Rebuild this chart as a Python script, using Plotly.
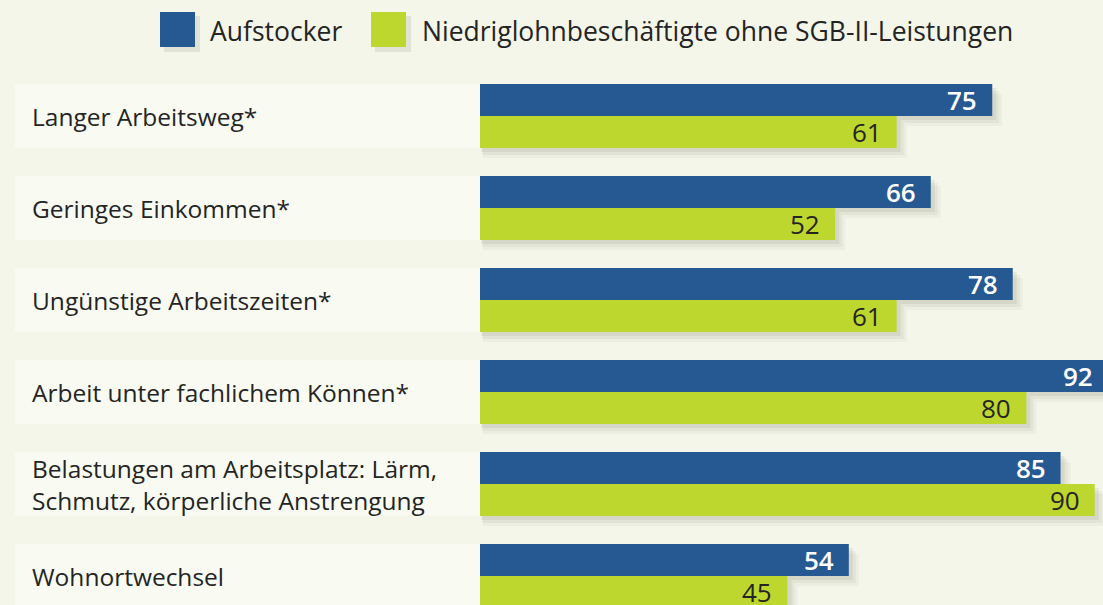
import plotly.graph_objects as go

categories = [
    "Langer Arbeitsweg*",
    "Geringes Einkommen*",
    "Ungünstige Arbeitszeiten*",
    "Arbeit unter fachlichem Können*",
    "Belastungen am Arbeitsplatz: Lärm,<br>Schmutz, körperliche Anstrengung",
    "Wohnortwechsel",
]
aufstocker = [75, 66, 78, 92, 85, 54]
niedriglohn = [61, 52, 61, 80, 90, 45]
series_names = ["Aufstocker", "Niedriglohnbeschäftigte ohne SGB-II-Leistungen"]

BLUE = "#265892"
LIME = "#bed72e"
BG = "#f4f6ea"
PANEL = "#f9fbf3"
TXT = "#242424"
FONT = "Open Sans"
NUMFONT = "Open Sans"

W, H = 1103, 605
ML, MT = 480, 70
PW, PH = W - ML, H - MT
PX_PER_UNIT = 6.83
XMAX = PW / PX_PER_UNIT
ROW_PX = 92
Y_SPAN = PH / ROW_PX


def px2paper_x(px):
    return (px - ML) / PW


def py2paper_y(py):
    return (H - py) / PH


fig = go.Figure()
fig.add_trace(go.Bar(y=categories, x=aufstocker, orientation="h", name=series_names[0],
                     marker=dict(color=BLUE, line=dict(width=0)), hoverinfo="x+y"))
fig.add_trace(go.Bar(y=categories, x=niedriglohn, orientation="h", name=series_names[1],
                     marker=dict(color=LIME, line=dict(width=0)), hoverinfo="x+y"))

shapes = []
annotations = []
half = 64 / ROW_PX / 2
for i, cat in enumerate(categories):
    shapes.append(dict(type="rect", xref="paper", yref="y",
                       x0=px2paper_x(15), x1=0, y0=i - half, y1=i + half,
                       fillcolor=PANEL, line=dict(width=0), layer="below"))
    for dx, dy, op in [(10, 10, 0.04), (7, 7, 0.06), (4, 4, 0.08)]:
        ux = dx / PX_PER_UNIT
        uy = dy / ROW_PX
        shapes.append(dict(type="rect", xref="x", yref="y",
                           x0=ux * 0.3, x1=aufstocker[i] + ux, y0=i - half + uy, y1=i + uy,
                           fillcolor=f"rgba(60,60,40,{op})", line=dict(width=0), layer="below"))
        shapes.append(dict(type="rect", xref="x", yref="y",
                           x0=ux * 0.3, x1=niedriglohn[i] + ux, y0=i + uy, y1=i + half + uy,
                           fillcolor=f"rgba(60,60,40,{op})", line=dict(width=0), layer="below"))
    annotations.append(dict(xref="paper", yref="y", x=px2paper_x(30), y=i,
                            text=cat, showarrow=False, xanchor="left", yanchor="middle",
                            align="left", font=dict(family=FONT, size=24.5, color=TXT)))
    annotations.append(dict(xref="paper", yref="y", x=aufstocker[i] / XMAX, y=i, yshift=16, xshift=-13,
                            text=f"{aufstocker[i]}", showarrow=False, xanchor="right",
                            yanchor="middle", font=dict(family=NUMFONT, size=26, color="white", weight=600)))
    annotations.append(dict(xref="paper", yref="y", x=niedriglohn[i] / XMAX, y=i, yshift=-16, xshift=-13,
                            text=f"{niedriglohn[i]}", showarrow=False, xanchor="right",
                            yanchor="middle", font=dict(family=NUMFONT, size=26, color=TXT)))

leg = [(160, BLUE, series_names[0], 208), (371, LIME, series_names[1], 420)]
for x0, col, name, tx in leg:
    shapes.append(dict(type="rect", xref="paper", yref="paper",
                       x0=px2paper_x(x0 + 4), x1=px2paper_x(x0 + 40),
                       y0=py2paper_y(52), y1=py2paper_y(16),
                       fillcolor="rgba(60,60,40,0.10)", line=dict(width=0)))
    shapes.append(dict(type="rect", xref="paper", yref="paper",
                       x0=px2paper_x(x0), x1=px2paper_x(x0 + 35),
                       y0=py2paper_y(47), y1=py2paper_y(12),
                       fillcolor=col, line=dict(width=0)))
    annotations.append(dict(xref="paper", yref="paper", x=px2paper_x(tx), y=py2paper_y(31),
                            text=name, showarrow=False, xanchor="left", yanchor="middle",
                            font=dict(family=FONT, size=26.5, color=TXT)))

fig.update_layout(
    width=W, height=H,
    margin=dict(l=ML, r=0, t=MT, b=0, pad=0),
    paper_bgcolor=BG, plot_bgcolor=BG,
    barmode="group", bargap=1 - 64 / ROW_PX, bargroupgap=0,
    showlegend=False,
    xaxis=dict(range=[0, XMAX], visible=False, fixedrange=True),
    yaxis=dict(range=[-0.5 + Y_SPAN, -0.5], visible=False, type="category",
               categoryorder="array", categoryarray=categories, fixedrange=True),
    shapes=shapes, annotations=annotations,
    font=dict(family=FONT, color=TXT),
)

fig.write_html("out.html", config={"displayModeBar": False},
               post_script="document.body.style.margin='0';document.body.style.overflow='hidden';")
